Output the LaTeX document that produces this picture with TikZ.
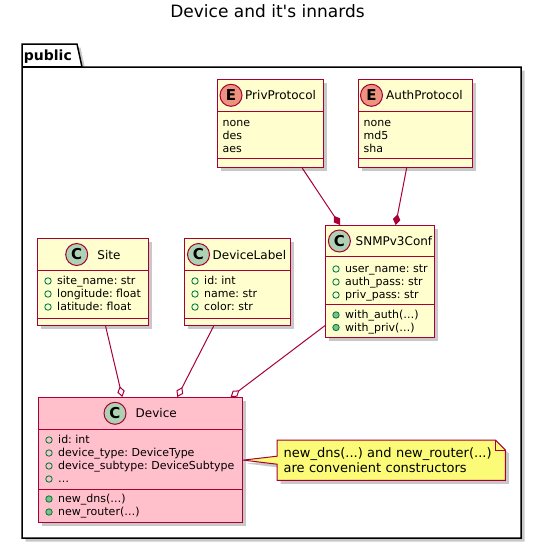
\documentclass[tikz,border=0pt]{standalone}
\usepackage{fontspec}
\setmainfont{DejaVu Sans}
\newfontfamily\titlefont{DejaVu Sans}
\usetikzlibrary{arrows.meta,shadows,backgrounds}

\definecolor{umlred}{HTML}{A80036}
\definecolor{umlfill}{HTML}{FEFECE}
\definecolor{devpink}{HTML}{FFC0CB}
\definecolor{notefill}{HTML}{FBFB77}
\definecolor{ccircle}{HTML}{ADD1B2}
\definecolor{ecircle}{HTML}{EB937F}
\definecolor{fieldgreen}{HTML}{038048}
\definecolor{methodgreen}{HTML}{84BE84}

\begin{document}
\frenchspacing
\begin{tikzpicture}[
    x=1pt, y=-1pt,
    umlclass/.style={rectangle, draw=umlred, line width=1.2pt, fill=umlfill, anchor=north west, inner sep=0pt,
        drop shadow={shadow xshift=3.5pt, shadow yshift=-3.5pt, opacity=0.3, fill=black!70}},
    pkgframe/.style={draw=black, line width=1.5pt, fill=white,
        drop shadow={shadow xshift=3.5pt, shadow yshift=-3.5pt, opacity=0.3, fill=black!70}},
    noteshape/.style={draw=umlred, line width=1pt, fill=notefill,
        drop shadow={shadow xshift=3.5pt, shadow yshift=-3.5pt, opacity=0.3, fill=black!70}},
    notebox/.style={anchor=north west, minimum width=228pt, minimum height=40pt, text width=215pt,
        inner xsep=6.5pt, inner ysep=0pt, align=left, font=\fontsize{13}{14.3}\selectfont},
    sepline/.style={draw=umlred, line width=1pt},
    classname/.style={anchor=base west, inner sep=0pt, font=\fontsize{12}{14}\selectfont},
    membertext/.style={anchor=base west, inner sep=0pt, font=\fontsize{11}{13}\selectfont},
    badge/.style={circle, draw=umlred, line width=1pt, minimum size=22pt, inner sep=0pt,
        font=\fontsize{15}{15}\selectfont\bfseries},
    fieldicon/.style={draw=fieldgreen, line width=0.9pt},
    methodicon/.style={draw=fieldgreen, fill=methodgreen, line width=0.9pt},
    aggline/.style={draw=umlred, line width=1pt, -{Diamond[length=11pt, width=7.5pt, fill=white]}},
    compline/.style={draw=umlred, line width=1pt, -{Diamond[length=11pt, width=7.5pt, fill=umlred]}}
]
\useasboundingbox (0,0) rectangle (542,549);

% === TITLE AND PACKAGE ===
\node[anchor=base, inner sep=0pt, font=\titlefont\fontsize{17}{20}\selectfont] (title) at (267.5,17.5) {Device and it's innards};

\begin{scope}[on background layer]
\fill[white] (0,0) rectangle (542,549);
\draw[pkgframe] (22,44) -- (77,44) -- (82,67) -- (521,67) -- (521,538) -- (22,538) -- cycle;
\draw[line width=1.3pt] (22,67) -- (82,67);
\end{scope}
\node[anchor=base west, inner sep=0pt, font=\fontsize{14}{16}\selectfont\bfseries] (pkgname) at (23.7,60) {public};

% === ENUMS (top row) ===
% PrivProtocol
\node[umlclass, minimum width=106pt, minimum height=88pt] (priv) at (217,79) {};
\draw[sepline] (217,111.5) -- (323,111.5);
\draw[sepline] (217,158.5) -- (323,158.5);
\node[badge, fill=ecircle] (priv-c) at (231,95.3) {E};
\node[classname] (priv-name) at (245,99.8) {PrivProtocol};
\foreach \txt [count=\i] in {none, des, aes} {
    \pgfmathsetmacro{\y}{126 + (\i-1)*13}
    \node[membertext] (priv-m\i) at (222.5,\y) {\txt};
}

% AuthProtocol
\node[umlclass, minimum width=114pt, minimum height=88pt] (auth) at (358,79) {};
\draw[sepline] (358,111.5) -- (472,111.5);
\draw[sepline] (358,158.5) -- (472,158.5);
\node[badge, fill=ecircle] (auth-c) at (371.5,95.3) {E};
\node[classname] (auth-name) at (386,99.8) {AuthProtocol};
\foreach \txt [count=\i] in {none, md5, sha} {
    \pgfmathsetmacro{\y}{126 + (\i-1)*13}
    \node[membertext] (auth-m\i) at (363.5,\y) {\txt};
}

% === CLASSES (middle row) ===
% Site
\node[umlclass, minimum width=111pt, minimum height=87pt] (site) at (37,238) {};
\draw[sepline] (37,270.5) -- (148,270.5);
\draw[sepline] (37,318) -- (148,318);
\node[badge, fill=ccircle] (site-c) at (76.7,254.5) {C};
\node[classname] (site-name) at (97.2,259) {Site};
\foreach \txt [count=\i] in {site\_name: str, longitude: float, latitude: float} {
    \pgfmathsetmacro{\y}{284.5 + (\i-1)*13}
    \draw[fieldicon] (48,\y-3.5) circle (3.2);
    \node[membertext] (site-m\i) at (57,\y) {\txt};
}

% DeviceLabel
\node[umlclass, minimum width=106pt, minimum height=87pt] (devlabel) at (184,238) {};
\draw[sepline] (184,270.5) -- (290,270.5);
\draw[sepline] (184,318) -- (290,318);
\node[badge, fill=ccircle] (devlabel-c) at (198.5,254.5) {C};
\node[classname] (devlabel-name) at (212.5,259) {DeviceLabel};
\foreach \txt [count=\i] in {id: int, name: str, color: str} {
    \pgfmathsetmacro{\y}{284.5 + (\i-1)*13}
    \draw[fieldicon] (195,\y-3.5) circle (3.2);
    \node[membertext] (devlabel-m\i) at (204,\y) {\txt};
}

% SNMPv3Conf
\node[umlclass, minimum width=109pt, minimum height=112pt] (snmp) at (325,225) {};
\draw[sepline] (325,256.5) -- (434,256.5);
\draw[sepline] (325,304) -- (434,304);
\node[badge, fill=ccircle] (snmp-c) at (339.4,241) {C};
\node[classname] (snmp-name) at (355.5,245.4) {SNMPv3Conf};
\foreach \txt [count=\i] in {user\_name: str, auth\_pass: str, priv\_pass: str} {
    \pgfmathsetmacro{\y}{272.5 + (\i-1)*13}
    \draw[fieldicon] (336,\y-3.5) circle (3.2);
    \node[membertext] (snmp-m\i) at (345,\y) {\txt};
}
\foreach \txt [count=\i] in {with\_auth(\ldots), with\_priv(\ldots)} {
    \pgfmathsetmacro{\y}{318.5 + (\i-1)*12.5}
    \draw[methodicon] (336,\y-3.5) circle (3.2);
    \node[membertext] (snmp-f\i) at (345,\y) {\txt};
}

% === DEVICE (bottom) ===
\node[umlclass, fill=devpink, minimum width=204pt, minimum height=125pt] (device) at (38,397) {};
\draw[sepline] (38,429.3) -- (242,429.3);
\draw[sepline] (38,489) -- (242,489);
\node[badge, fill=ccircle] (device-c) at (115,413.3) {C};
\node[classname] (device-name) at (135.5,417.7) {Device};
\foreach \txt [count=\i] in {id: int, device\_type: DeviceType, device\_subtype: DeviceSubtype, \ldots} {
    \pgfmathsetmacro{\y}{443.5 + (\i-1)*13}
    \draw[fieldicon] (49,\y-3.5) circle (3.2);
    \node[membertext] (device-m\i) at (58,\y) {\txt};
}
\foreach \txt [count=\i] in {new\_dns(\ldots), new\_router(\ldots)} {
    \pgfmathsetmacro{\y}{502.5 + (\i-1)*13}
    \draw[methodicon] (49,\y-3.5) circle (3.2);
    \node[membertext] (device-f\i) at (58,\y) {\txt};
}

% Note on the constructors
\node[notebox] (note) at (277,440) {new\_dns(...) and new\_router(...)\\are convenient constructors};
\begin{scope}[on background layer]
\draw[noteshape] (note.north west) -- ([xshift=-10pt]note.north east) -- ([yshift=-10pt]note.north east)
    -- (note.south east) -- (note.south west) -- ([yshift=-4pt]note.west) -- (device.east)
    -- ([yshift=4pt]note.west) -- cycle;
\draw[draw=umlred, line width=1pt] ([xshift=-10pt]note.north east) -- ([xshift=-10pt, yshift=-10pt]note.north east)
    -- ([yshift=-10pt]note.north east);
\end{scope}

% === RELATIONS ===
\draw[compline] ([xshift=31.7pt]priv.south) -- ([xshift=-40pt]snmp.north);
\draw[compline] ([xshift=-9pt]auth.south) -- ([xshift=15.5pt]snmp.north);
\draw[aggline] ([xshift=12.5pt]site.south) -- ([xshift=-18.3pt]device.north);
\draw[aggline] ([xshift=-24pt]devlabel.south) -- ([xshift=36.7pt]device.north);
\draw[aggline] ([yshift=-44pt]snmp.west) -- ([xshift=90pt]device.north);

\end{tikzpicture}
\end{document}
